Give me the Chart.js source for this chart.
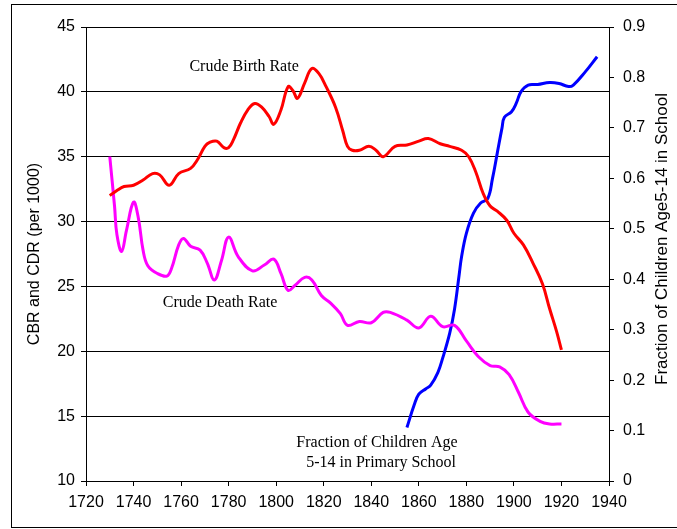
<!DOCTYPE html>
<html lang="en">
<head>
<meta charset="UTF-8">
<title>Birth, death and schooling</title>
<script src="https://cdn.jsdelivr.net/npm/chart.js"></script>
<style>
    body {
        margin: 0;
        padding: 0;
        background: #fff;
        overflow: hidden;
    }
    canvas {
        display: block;
    }
</style>
</head>
<body>
<canvas id="rates" width="677" height="529"></canvas>
<script>
    // crude birth rate (per 1000)
    const birthYears = [1730, 1733, 1736, 1740, 1744, 1748, 1751, 1755, 1759, 1764, 1767, 1770, 1772, 1775, 1778, 1780, 1782, 1785, 1788, 1791, 1794, 1797, 1799, 1802, 1805, 1807, 1809, 1812, 1815, 1818, 1821, 1825, 1828, 1830, 1832, 1835, 1839, 1842, 1845, 1850, 1855, 1860, 1864, 1869, 1873, 1878, 1881, 1884, 1887, 1890, 1893, 1897, 1900, 1904, 1908, 1912, 1915, 1918, 1920];
    const birthRate = [32.0, 32.4, 32.7, 32.8, 33.2, 33.7, 33.6, 32.8, 33.7, 34.1, 34.8, 35.8, 36.1, 36.2, 35.7, 35.7, 36.3, 37.6, 38.6, 39.1, 38.8, 38.1, 37.5, 38.6, 40.4, 40.1, 39.5, 40.7, 41.8, 41.4, 40.4, 38.8, 37.0, 35.8, 35.5, 35.5, 35.8, 35.5, 35.0, 35.8, 35.9, 36.2, 36.4, 36.0, 35.8, 35.5, 35.0, 33.8, 32.2, 31.2, 30.8, 30.1, 29.1, 28.2, 26.8, 25.2, 23.3, 21.5, 20.1];

    // crude death rate (per 1000)
    const deathYears = [1730, 1732, 1733, 1735, 1737, 1740, 1742, 1744, 1746, 1750, 1754, 1756, 1759, 1761, 1764, 1768, 1771, 1774, 1777, 1780, 1784, 1790, 1795, 1799, 1802, 1805, 1808, 1812, 1815, 1819, 1823, 1827, 1830, 1835, 1840, 1845, 1848, 1855, 1860, 1865, 1870, 1875, 1880, 1885, 1890, 1894, 1898, 1902, 1906, 1911, 1915, 1920];
    const deathRate = [35.0, 31.2, 29.0, 27.7, 29.3, 31.5, 30.3, 27.8, 26.6, 26.0, 25.8, 26.4, 28.2, 28.7, 28.1, 27.8, 26.8, 25.5, 27.0, 28.8, 27.3, 26.2, 26.65, 27.1, 26.0, 24.7, 25.1, 25.7, 25.5, 24.3, 23.7, 22.9, 22.0, 22.3, 22.2, 23.0, 23.0, 22.4, 21.8, 22.7, 21.9, 22.0, 20.8, 19.6, 18.9, 18.8, 18.2, 16.8, 15.3, 14.6, 14.4, 14.4];

    // fraction of children aged 5-14 in primary school
    const schoolYears = [1855, 1858, 1860, 1863, 1865, 1868, 1870, 1873, 1875, 1877, 1878, 1880, 1883, 1886, 1889, 1891, 1893, 1895, 1896, 1899, 1901, 1903, 1906, 1910, 1915, 1919, 1923, 1925, 1930, 1935];
    const schoolFraction = [0.106, 0.15, 0.172, 0.183, 0.19, 0.215, 0.243, 0.293, 0.34, 0.41, 0.445, 0.491, 0.531, 0.551, 0.56, 0.60, 0.65, 0.70, 0.721, 0.732, 0.749, 0.772, 0.785, 0.786, 0.790, 0.788, 0.782, 0.785, 0.811, 0.841];

    // in-chart labels, placed in data units (year, rate)
    const noteText = ["Crude Birth Rate", "Crude Death Rate", "Fraction of Children Age", "5-14 in Primary School"];
    const noteYear = [1786.5, 1776.4, 1842.4, 1844.1];
    const noteRate = [41.9, 23.7, 12.93, 11.4];

    const toPoints = (xs, ys) => xs.map((x, i) => ({ x: x, y: ys[i] }));

    const sans = "'Liberation Sans', Arial, sans-serif";
    const serif = "'Liberation Serif', 'Times New Roman', serif";

    const extras = {
        id: 'extras',
        beforeDraw(chart) {
            const ctx = chart.ctx;
            ctx.save();
            ctx.fillStyle = '#fff';
            ctx.fillRect(0, 0, chart.width, chart.height);
            ctx.strokeStyle = '#000';
            ctx.lineWidth = 1;
            ctx.strokeRect(11.5, 4.5, 700, 523);
            ctx.restore();
        },
        afterDraw(chart) {
            const ctx = chart.ctx;
            const xs = chart.scales.x;
            const ys = chart.scales.y;
            ctx.save();
            ctx.fillStyle = '#000';
            ctx.font = '16px ' + serif;
            ctx.textAlign = 'center';
            ctx.textBaseline = 'middle';
            noteText.forEach((t, i) => {
                ctx.fillText(t, xs.getPixelForValue(noteYear[i]), ys.getPixelForValue(noteRate[i]));
            });
            // right axis title
            ctx.font = '17px ' + sans;
            ctx.translate(662, 239);
            ctx.rotate(-Math.PI / 2);
            ctx.fillText('Fraction of Children Age5-14 in School', 0, 0);
            ctx.restore();
        }
    };

    new Chart(document.getElementById('rates'), {
        type: 'line',
        data: {
            datasets: [
                { label: 'Crude Birth Rate', data: toPoints(birthYears, birthRate), borderColor: '#ff0000', yAxisID: 'y' },
                { label: 'Crude Death Rate', data: toPoints(deathYears, deathRate), borderColor: '#ff00ff', yAxisID: 'y' },
                { label: 'Fraction in School', data: toPoints(schoolYears, schoolFraction), borderColor: '#0000ff', yAxisID: 'y2' }
            ]
        },
        options: {
            responsive: false,
            animation: false,
            layout: { padding: { top: 27, left: 0, right: 0, bottom: 0 } },
            elements: {
                point: { radius: 0 },
                line: { borderWidth: 3, tension: 0.4, fill: false }
            },
            plugins: {
                legend: { display: false },
                tooltip: { enabled: false }
            },
            scales: {
                x: {
                    type: 'linear',
                    min: 1720,
                    max: 1940,
                    afterFit: s => { s.height = 48; },
                    ticks: { stepSize: 20, color: '#000', font: { family: sans, size: 16 }, padding: 7, callback: v => String(v) },
                    grid: { drawOnChartArea: false, color: '#000', tickLength: 5 },
                    border: { color: '#000', width: 1 }
                },
                y: {
                    position: 'left',
                    min: 10,
                    max: 45,
                    afterFit: s => { s.width = 86; },
                    ticks: { stepSize: 5, color: '#000', font: { family: sans, size: 16 }, padding: 6 },
                    grid: { color: '#000', lineWidth: 1, tickLength: 5 },
                    border: { color: '#000', width: 1 },
                    title: {
                        display: true,
                        text: 'CBR and CDR (per 1000)',
                        color: '#000',
                        font: { family: sans, size: 16 },
                        padding: { top: 25, bottom: 0 }
                    }
                },
                y2: {
                    position: 'right',
                    min: 0,
                    max: 0.9,
                    afterFit: s => { s.width = 68; },
                    ticks: { stepSize: 0.1, color: '#000', font: { family: sans, size: 16 }, padding: 9 },
                    grid: { drawOnChartArea: false, color: '#000', tickLength: 5 },
                    border: { color: '#000', width: 1 }
                }
            }
        },
        plugins: [extras]
    });
</script>
</body>
</html>
